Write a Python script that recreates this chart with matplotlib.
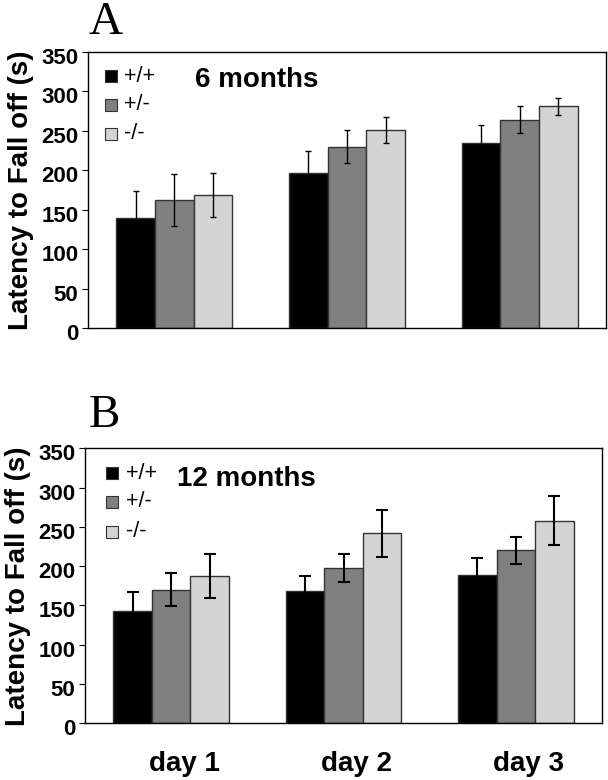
import numpy as np
import matplotlib
matplotlib.use("Agg")
import matplotlib.pyplot as plt
from matplotlib.patches import Rectangle
from matplotlib.transforms import ScaledTranslation

plt.rcParams["font.family"] = ["Liberation Sans", "DejaVu Sans"]

days = ["day 1", "day 2", "day 3"]
genotypes = ["+/+", "+/-", "-/-"]
colors = ["#000000", "#808080", "#d4d4d4"]

# 6 months
a_wt = [140, 197, 234]
a_het = [162, 230, 264]
a_ko = [169, 251, 281]
a_wt_err = [34, 28, 24]
a_het_err = [33, 21, 17]
a_ko_err = [28, 16, 11]

# 12 months
b_wt = [143, 169, 189]
b_het = [170, 198, 220]
b_ko = [188, 242, 258]
b_wt_err = [24, 19, 21]
b_het_err = [21, 18, 17]
b_ko_err = [28, 30, 31]

fig = plt.figure(figsize=(6.08, 7.80), dpi=100)
axA = fig.add_axes([88/608, 1-328/780, 518/608, 276/780])
axB = fig.add_axes([85/608, 1-723.3/780, 517/608, 275/780])

x = np.arange(len(days))
w = 0.224


def draw(ax, means, errs, title, capsize, elw, leg_x, leg_ys, txt_x, title_xy):
    for i, (m, e) in enumerate(zip(means, errs)):
        ax.bar(x + (i - 1) * w, m, w, color=colors[i], edgecolor="#333333",
               linewidth=1.0, zorder=2)
        ax.errorbar(x + (i - 1) * w, m, yerr=e, fmt="none", ecolor="black",
                    elinewidth=elw, capsize=capsize, capthick=elw, zorder=3)
    ax.set_xlim(-0.5, 2.5)
    ax.set_ylim(0, 350)
    ax.set_yticks(range(0, 351, 50))
    ax.tick_params(axis="y", direction="out", length=4, width=0.8, pad=3,
                   labelsize=16)
    for lab in ax.get_yticklabels():
        lab.set_fontweight("bold")
        lab.set_transform(lab.get_transform() +
                          ScaledTranslation(0, -4/100, fig.dpi_scale_trans))
    for s in ax.spines.values():
        s.set_linewidth(1.0)
    ax.set_ylabel("Latency to Fall off (s)", fontsize=20, fontweight="bold",
                  labelpad=5)
    # legend
    for i, g in enumerate(genotypes):
        ax.add_patch(Rectangle((leg_x - 0.0115, leg_ys[i] - 0.0215), 0.023, 0.043,
                               transform=ax.transAxes, facecolor=colors[i],
                               edgecolor="#333333", linewidth=0.8, clip_on=False))
        ax.text(txt_x, leg_ys[i], g, transform=ax.transAxes, fontsize=15.5,
                va="center", ha="left")
    ax.text(title_xy[0], title_xy[1], title, transform=ax.transAxes,
            fontsize=20, fontweight="bold", ha="center", va="center")


draw(axA, [a_wt, a_het, a_ko], [a_wt_err, a_het_err, a_ko_err], "6 months",
     2.3, 1.0, 0.044, [0.913, 0.808, 0.703], 0.069, (0.325, 0.900))
draw(axB, [b_wt, b_het, b_ko], [b_wt_err, b_het_err, b_ko_err], "12 months",
     4.0, 1.5, 0.052, [0.910, 0.805, 0.696], 0.079, (0.313, 0.888))

axA.set_xticks(x)
axA.tick_params(axis="x", length=0, labelbottom=False)
axB.set_xticks(x)
axB.set_xticklabels(days, fontsize=20, fontweight="bold")
axB.tick_params(axis="x", length=0, pad=20)
for lab in axB.get_xticklabels():
    lab.set_transform(lab.get_transform() +
                      ScaledTranslation(13/100, 0, fig.dpi_scale_trans))

fig.text(106/608, 1-34/780, "A", fontsize=34, family="Liberation Serif",
         ha="center", va="baseline")
fig.text(104/608, 1-427/780, "B", fontsize=34, family="Liberation Serif",
         ha="center", va="baseline")

fig.savefig("out.png", dpi=100)
